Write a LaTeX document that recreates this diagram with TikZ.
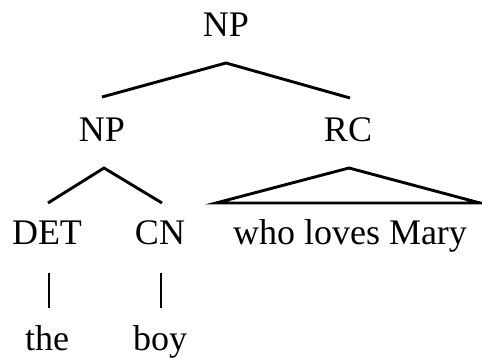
\documentclass[tikz,border=0pt]{standalone}
\usepackage{fontspec}
\setmainfont{Liberation Serif}
\begin{document}
\begin{tikzpicture}[x=1pt,y=-1pt,
  lab/.style={anchor=base,inner sep=0pt,font=\fontsize{36}{40}\selectfont},
  edge/.style={line width=2.9pt,line join=miter,line cap=butt}]
\useasboundingbox (0,0) rectangle (482,358);
\node[lab] (np0) at (226,37) {NP};
\node[lab] (np1) at (102,142) {NP};
\node[lab] (rc) at (348,142) {RC};
\node[lab] (det) at (47,245) {DET};
\node[lab] (cn) at (160,245) {CN};
\node[lab] (wlm) at (350,245) {who loves Mary};
\node[lab] (the) at (47,350) {the};
\node[lab] (boy) at (160,350) {boy};
% top NP
\draw[edge] ([xshift=0pt,yshift=45pt]np1.base) -- ([yshift=-26pt]np0.base) -- ([xshift=2pt,yshift=44pt]rc.base);
% lower NP
\draw[edge] ([xshift=1pt,yshift=42pt]det.base) -- ([xshift=2pt,yshift=-26pt]np1.base) -- ([xshift=2pt,yshift=42pt]cn.base);
% RC triangle
\draw[edge] ([xshift=-134pt,yshift=42pt]wlm.base) -- ([xshift=1pt,yshift=-26pt]rc.base) -- ([xshift=130pt,yshift=42pt]wlm.base) -- cycle;
% vertical lines
\draw[edge] ([xshift=2pt,yshift=42pt]the.base) -- ([xshift=2pt,yshift=-28pt]det.base);
\draw[edge] ([xshift=1pt,yshift=42pt]boy.base) -- ([xshift=1pt,yshift=-28pt]cn.base);
\end{tikzpicture}
\end{document}
